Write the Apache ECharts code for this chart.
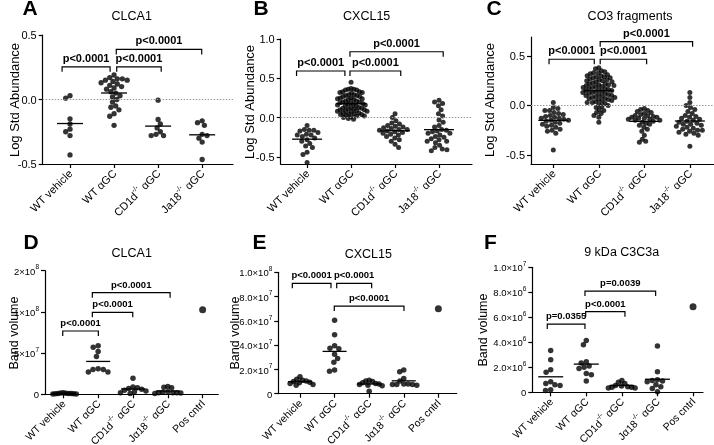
<!DOCTYPE html>
<html><head><meta charset="utf-8">
<script src="https://cdn.jsdelivr.net/npm/echarts@6/dist/echarts.min.js"></script>
<style>html,body{margin:0;padding:0;background:#fff}#c{width:714px;height:445px}</style>
</head><body><div id="c"></div>
<script>
// ---------------- DATA ----------------
const topCategories = ['WT vehicle', 'WT αGC', 'CD1d^-/- αGC', 'Ja18^-/- αGC'];
const bottomCategories = ['WT vehicle', 'WT αGC', 'CD1d^-/- αGC', 'Jα18^-/- αGC', 'Pos cntrl'];

// A: CLCA1, Log Std Abundance
const aVehicle = [0.03, 0.01, -0.15, -0.19, -0.23, -0.25, -0.28, -0.43];
const aAlphaGC = [0.19, 0.17, 0.16, 0.16, 0.15, 0.15, 0.14, 0.13, 0.12, 0.11, 0.10, 0.09, 0.08, 0.06, 0.05, 0.03, 0.02, 0.0, -0.02, -0.05, -0.06, -0.08, -0.11, -0.13, -0.2];
const aCD1d = [-0.005, -0.155, -0.19, -0.22, -0.25, -0.27, -0.28, -0.28];
const aJa18 = [-0.165, -0.18, -0.2, -0.27, -0.28, -0.3, -0.33, -0.465];

// B: CXCL15, Log Std Abundance
const bVehicle = [-0.10, -0.15, -0.16, -0.16, -0.17, -0.19, -0.21, -0.22, -0.22, -0.24, -0.26, -0.28, -0.30, -0.33, -0.36, -0.38, -0.44, -0.47, -0.57];
const bAlphaGC = [0.45, 0.37, 0.36, 0.36, 0.35, 0.35, 0.33, 0.33, 0.32, 0.32, 0.31, 0.29, 0.29, 0.28, 0.28, 0.27, 0.27,
  0.25, 0.25, 0.24, 0.24, 0.23, 0.23, 0.21, 0.21, 0.20, 0.20, 0.19, 0.19, 0.18, 0.17, 0.17, 0.16, 0.16, 0.15, 0.15,
  0.13, 0.13, 0.12, 0.12, 0.11, 0.11, 0.10, 0.10, 0.09, 0.09, 0.08, 0.08, 0.07, 0.06, 0.06, 0.05, 0.05, 0.04, 0.04, 0.03,
  0.02, 0.02, 0.01, 0.0, -0.01, -0.02];
const bCD1d = [0.05, 0.0, -0.04, -0.07, -0.08, -0.10, -0.11, -0.12, -0.13, -0.14, -0.15, -0.15, -0.16, -0.17, -0.18, -0.19, -0.20, -0.21, -0.22, -0.24, -0.26, -0.28, -0.30, -0.34, -0.38];
const bJa18 = [0.22, 0.20, 0.18, 0.15, 0.10, 0.05, 0.02, -0.03, -0.06, -0.10, -0.12, -0.15, -0.16, -0.17, -0.18, -0.20, -0.20, -0.22, -0.24, -0.25, -0.27, -0.28, -0.30, -0.30, -0.32, -0.35, -0.38, -0.40, -0.41, -0.42];

// C: CO3 fragments, Log Std Abundance
const cVehicle = [0.03, -0.02, -0.03, -0.05, -0.05, -0.07, -0.08, -0.09, -0.10, -0.11, -0.12, -0.13, -0.13, -0.14, -0.15, -0.15, -0.16, -0.17, -0.18, -0.19, -0.20, -0.21, -0.22, -0.24, -0.25, -0.26, -0.28, -0.45];
const cAlphaGC = [0.38, 0.37, 0.35, 0.34, 0.33, 0.33, 0.32, 0.31, 0.30, 0.30, 0.29, 0.29, 0.28, 0.28,
  0.27, 0.26, 0.26, 0.25, 0.25, 0.24, 0.24, 0.23, 0.22, 0.22, 0.21, 0.21, 0.20, 0.20, 0.19, 0.19, 0.18,
  0.18, 0.17, 0.17, 0.16, 0.16, 0.15, 0.15, 0.14, 0.14, 0.13, 0.13, 0.12, 0.12, 0.11, 0.11, 0.10, 0.10, 0.09,
  0.09, 0.08, 0.08, 0.07, 0.07, 0.06, 0.06, 0.05, 0.04, 0.04, 0.03, 0.03, 0.02, 0.01,
  0.0, -0.01, -0.02, -0.04, -0.05, -0.07, -0.08, -0.10, -0.12, -0.17];
const cCD1d = [-0.03, -0.04, -0.05, -0.06, -0.07, -0.08, -0.09, -0.10, -0.10, -0.11, -0.12, -0.12, -0.13, -0.13, -0.14, -0.14, -0.15, -0.15, -0.16, -0.17, -0.18, -0.19, -0.20, -0.22, -0.24, -0.26, -0.30, -0.34, -0.36, -0.37];
const cJa18 = [0.13, 0.08, 0.03, 0.0, -0.02, -0.04, -0.06, -0.08, -0.10, -0.11, -0.12, -0.13, -0.14, -0.15, -0.16, -0.17, -0.18, -0.19, -0.19, -0.20, -0.21, -0.22, -0.23, -0.24, -0.25, -0.25, -0.26, -0.27, -0.28, -0.29, -0.30, -0.41];

// D: CLCA1, Band volume
const dVehicle = [0.5e6, 0.8e6, 1.0e6, 1.0e6, 1.2e6, 1.5e6, 1.0e6, 0.8e6, 2.0e6, 0.5e6];
const dAlphaGC = [5.9e7, 5.7e7, 5.2e7, 4.6e7, 3.1e7, 3.0e7, 3.0e7, 2.7e7, 2.7e7];
const dCD1d = [1.95e7, 0.9e7, 0.8e7, 0.7e7, 0.6e7, 0.5e7, 0.4e7, 0.3e7, 0.2e7, 0.1e7];
const dJa18 = [0.95e7, 0.8e7, 0.85e7, 0.3e7, 0.25e7, 0.2e7, 0.2e7, 0.15e7, 0.1e7, 0.2e7];
const dPos = [1.05e8];

// E: CXCL15, Band volume
const eVehicle = [1.4e7, 1.2e7, 1.1e7, 1.05e7, 1.0e7, 0.95e7, 0.9e7, 0.85e7, 0.75e7, 0.7e7];
const eAlphaGC = [6.05e7, 4.85e7, 3.95e7, 3.75e7, 3.7e7, 3.25e7, 2.9e7, 2.6e7, 1.95e7, 1.85e7];
const eCD1d = [1.1e7, 1.05e7, 1.0e7, 0.9e7, 0.85e7, 0.8e7, 0.75e7, 0.7e7, 0.65e7, 0.2e7];
const eJa18 = [1.95e7, 1.8e7, 1.25e7, 1.05e7, 0.8e7, 0.8e7, 0.75e7, 0.75e7, 0.7e7, 0.75e7];
const ePos = [7.0e7];

// F: 9 kDa C3C3a, Band volume
const fVehicle = [3.35e6, 2.6e6, 1.8e6, 1.6e6, 0.85e6, 0.7e6, 0.6e6, 0.55e6, 0.2e6, 0.15e6];
const fAlphaGC = [4.15e6, 3.8e6, 2.45e6, 2.35e6, 2.1e6, 2.0e6, 1.9e6, 1.5e6, 1.4e6, 0.9e6];
const fCD1d = [0.95e6, 0.8e6, 0.7e6, 0.55e6, 0.5e6, 0.45e6, 0.4e6, 0.4e6, 0.35e6, 0.35e6];
const fJa18 = [3.7e6, 1.65e6, 1.0e6, 0.95e6, 0.9e6, 0.85e6, 0.6e6, 0.45e6, 0.3e6, 0.05e6];
const fPos = [6.85e6];

// tick values / labels
const ticksA = [-0.5, 0, 0.5];
const ticksB = [-0.5, 0, 0.5, 1.0];
const ticksC = [-0.5, 0, 0.5];
const ticksD = [0, 5e7, 1e8, 2e8];
const labelsD = ['0', '5×10^7', '1×10^8', '2×10^8'];
const ticksE = [0, 2e7, 4e7, 6e7, 8e7, 1e8];
const labelsE = ['0', '2.0×10^7', '4.0×10^7', '6.0×10^7', '8.0×10^7', '1.0×10^8'];
const ticksF = [0, 2e6, 4e6, 6e6, 8e6, 1e7];
const labelsF = ['0', '2.0×10^6', '4.0×10^6', '6.0×10^6', '8.0×10^6', '1.0×10^7'];

// comparisons: [from position, to position, bracket height (data value), label]
const compA = [[0.82, 1.91, 0.253, 'p<0.0001'], [2.06, 3.07, 0.253, 'p<0.0001'], [2.05, 3.99, 0.388, 'p<0.0001']];
const compB = [[0.76, 1.86, 0.593, 'p<0.0001'], [1.975, 3.13, 0.593, 'p<0.0001'], [1.975, 4.095, 0.838, 'p<0.0001']];
const compC = [[0.906, 1.90, 0.466, 'p<0.0001'], [2.03, 3.05, 0.466, 'p<0.0001'], [2.03, 4.06, 0.643, 'p<0.0001']];
const compD = [[0.983, 2.006, 7.68e7, 'p<0.0001'], [1.833, 2.994, 9.95e7, 'p<0.0001'], [1.833, 4.066, 1.466e8, 'p<0.0001']];
const compE = [[0.778, 1.896, 9.09e7, 'p<0.0001'], [2.061, 3.072, 9.09e7, 'p<0.0001'], [1.991, 4.006, 7.22e7, 'p<0.0001']];
const compF = [[0.904, 1.963, 5.46e6, 'p=0.0355'], [1.983, 3.087, 6.45e6, 'p<0.0001'], [1.963, 3.949, 8.1e6, 'p=0.0039']];

// ---------------- LAYOUT ----------------
const FONT = 'Arial, "Liberation Sans", Helvetica, sans-serif';
const identity = v => v;
const dTransform = v => v <= 1e8 ? v / 5e7 : 2 + (v - 1e8) / 1e8;

const panels = [
  {letter: 'A', title: 'CLCA1', yName: 'Log Std Abundance', cats: topCategories,
   groups: [aVehicle, aAlphaGC, aCD1d, aJa18], comps: compA,
   grid: {left: 42.7, top: 35, width: 190.3, height: 129}, xMin: 0.38, xMax: 4.7, yMin: -0.5, yMax: 0.5,
   tf: identity, ticks: ticksA, tickLabels: ticksA.map(v => v.toFixed(1)), zero: true, big: true,
   half: 13, dot: 5.3, letterPos: [30, 9.5], titlePos: [131.7, 16.7], yNamePos: [15, 100]},
  {letter: 'B', title: 'CXCL15', yName: 'Log Std Abundance', cats: topCategories,
   groups: [bVehicle, bAlphaGC, bCD1d, bJa18], comps: compB,
   grid: {left: 280.7, top: 39, width: 191.3, height: 125}, xMin: 0.40, xMax: 4.75, yMin: -0.59, yMax: 1.0,
   tf: identity, ticks: ticksB, tickLabels: ticksB.map(v => v.toFixed(1)), zero: true, big: true,
   half: 15, dot: 5, letterPos: [261, 9.5], titlePos: [366.7, 17], yNamePos: [250, 102]},
  {letter: 'C', title: 'CO3 fragments', yName: 'Log Std Abundance', cats: topCategories,
   groups: [cVehicle, cAlphaGC, cCD1d, cJa18], comps: compC,
   grid: {left: 531, top: 37, width: 183, height: 127}, xMin: 0.51, xMax: 4.53, yMin: -0.59, yMax: 0.69,
   tf: identity, ticks: ticksC, tickLabels: ticksC.map(v => v.toFixed(1)), zero: true, big: true,
   half: 15, dot: 5, letterPos: [494, 9.5], titlePos: [630, 17], yNamePos: [490, 100]},
  {letter: 'D', title: 'CLCA1', yName: 'Band volume', cats: bottomCategories,
   groups: [dVehicle, dAlphaGC, dCD1d, dJa18, dPos], comps: compD,
   grid: {left: 45, top: 270.7, width: 173.3, height: 123.6}, xMin: 0.474, xMax: 5.45, yMin: 0, yMax: 3,
   tf: dTransform, ticks: ticksD, tickLabels: labelsD, zero: false, big: false,
   half: 12, dot: 5.5, letterPos: [31, 243.5], titlePos: [131.7, 253.3], yNamePos: [15, 333]},
  {letter: 'E', title: 'CXCL15', yName: 'Band volume', cats: bottomCategories,
   groups: [eVehicle, eAlphaGC, eCD1d, eJa18, ePos], comps: compE,
   grid: {left: 278.3, top: 272.3, width: 178.4, height: 121.4}, xMin: 0.373, xMax: 5.53, yMin: 0, yMax: 1e8,
   tf: identity, ticks: ticksE, tickLabels: labelsE, zero: false, big: false,
   half: 12, dot: 5.5, letterPos: [259.5, 243.5], titlePos: [368.3, 254.3], yNamePos: [236, 333]},
  {letter: 'F', title: '9 kDa C3C3a', yName: 'Band volume', cats: bottomCategories,
   groups: [fVehicle, fAlphaGC, fCD1d, fJa18, fPos], comps: compF,
   grid: {left: 532.3, top: 267.3, width: 170.7, height: 125}, xMin: 0.483, xMax: 5.28, yMin: 0, yMax: 1e7,
   tf: identity, ticks: ticksF, tickLabels: labelsF, zero: false, big: false,
   half: 12.5, dot: 5.5, letterPos: [490.5, 243.5], titlePos: [621.7, 253], yNamePos: [484, 330]}
];

function richify(s) {
  const m = s.match(/^(.*?)\^(\S+)(.*)$/);
  if (!m) return '{a|' + s + '}';
  return '{a|' + m[1] + '}{s|' + m[2] + '}' + (m[3] ? '{a|' + m[3] + '}' : '');
}

// beeswarm offsets in pixels, then capped to a column half-width
function swarm(vals, yPx, d, maxHalf) {
  const order = vals.map((v, i) => i).sort((a, b) => vals[b] - vals[a]);
  const placed = [];
  const xs = new Array(vals.length).fill(0);
  order.forEach((i, k) => {
    const y = vals[i] * yPx;
    const cands = [0];
    placed.forEach(p => {
      const dy = Math.abs(p.y - y);
      if (dy < d) { const dx = Math.sqrt(d * d - dy * dy); cands.push(p.x + dx, p.x - dx); }
    });
    const sign = k % 2 ? 1 : -1;
    cands.sort((a, b) => (Math.abs(a) - Math.abs(b)) || (sign * (a - b)));
    let best = 0;
    for (const c of cands) {
      if (placed.every(p => (p.x - c) * (p.x - c) + (p.y - y) * (p.y - y) >= d * d - 1e-6)) { best = c; break; }
    }
    placed.push({x: best, y});
    xs[i] = best;
  });
  const mx = Math.max(1e-9, ...xs.map(Math.abs));
  const k = mx > maxHalf ? maxHalf / mx : 1;
  return xs.map(x => x * k);
}

const option = {animation: false, backgroundColor: '#fff', grid: [], xAxis: [], yAxis: [], series: [], graphic: []};

panels.forEach((P, pi) => {
  option.grid.push(Object.assign({containLabel: false, outerBoundsMode: 'none'}, P.grid));
  const catPos = P.cats.map((c, i) => i + 1);
  option.xAxis.push({
    type: 'value', gridIndex: pi, min: P.xMin, max: P.xMax,
    axisLine: {show: true, onZero: false, lineStyle: {color: '#000', width: 1.2}},
    axisTick: {show: true, customValues: catPos, length: 4, lineStyle: {color: '#000', width: 1.2}},
    splitLine: {show: false},
    axisLabel: {
      customValues: catPos, rotate: 45, margin: 7, color: '#000',
      formatter: v => richify(P.cats[Math.round(v) - 1] || ''),
      rich: {
        a: {fontFamily: FONT, fontSize: P.big ? 11 : 10.5, color: '#000', lineHeight: 14, verticalAlign: 'bottom'},
        s: {fontFamily: FONT, fontSize: 7, color: '#000', lineHeight: 8, verticalAlign: 'top'}
      }
    }
  });
  const tVals = P.ticks.map(P.tf);
  option.yAxis.push({
    type: 'value', gridIndex: pi, min: P.yMin, max: P.yMax,
    axisLine: {show: true, onZero: false, lineStyle: {color: '#000', width: 1.2}},
    axisTick: {show: true, customValues: tVals, length: 4, lineStyle: {color: '#000', width: 1.2}},
    splitLine: {show: false},
    axisLabel: {
      customValues: tVals, margin: 6, color: '#000',
      formatter: v => {
        const idx = tVals.findIndex(t => Math.abs(t - v) < 1e-9 * Math.max(1, Math.abs(t)));
        return idx < 0 ? '' : richify(P.tickLabels[idx]);
      },
      rich: {
        a: {fontFamily: FONT, fontSize: P.big ? 11 : 9.5, color: '#000', lineHeight: 13, verticalAlign: 'bottom'},
        s: {fontFamily: FONT, fontSize: 6.5, color: '#000', lineHeight: 8, verticalAlign: 'top'}
      }
    }
  });

  const yPx = P.grid.height / (P.yMax - P.yMin);
  const xPx = P.grid.width / (P.xMax - P.xMin);
  const scatterData = [];
  const means = [];
  P.groups.forEach((g, gi) => {
    const tv = g.map(P.tf);
    const offs = swarm(tv, yPx, P.dot * 0.95, P.half + 1);
    tv.forEach((v, i) => scatterData.push({value: [gi + 1 + offs[i] / xPx, v], symbolSize: g.length === 1 ? 7 : P.dot}));
    if (g.length > 1) {
      const m = g.reduce((s, x) => s + x, 0) / g.length;
      means.push([gi + 1, P.tf(m)]);
    }
  });
  const sc = {
    type: 'scatter', xAxisIndex: pi, yAxisIndex: pi, data: scatterData, symbol: 'circle',
    itemStyle: {color: '#000'}, silent: true, z: 3
  };
  if (P.zero) {
    sc.markLine = {silent: true, symbol: ['none', 'none'], label: {show: false},
      lineStyle: {color: '#999', type: [1.5, 1.5], width: 1}, data: [{yAxis: 0}]};
  }
  option.series.push(sc);
  option.series.push({
    type: 'custom', xAxisIndex: pi, yAxisIndex: pi, data: means, silent: true, z: 4,
    renderItem: (params, api) => {
      const c = api.coord([api.value(0), api.value(1)]);
      return {type: 'line', shape: {x1: c[0] - P.half, y1: c[1], x2: c[0] + P.half, y2: c[1]},
        style: {stroke: '#000', lineWidth: 1.3}};
    }
  });
  option.series.push({
    type: 'custom', xAxisIndex: pi, yAxisIndex: pi, silent: true, z: 5, clip: false,
    data: P.comps.map((b, i) => [b[0], b[1], P.tf(b[2]), i]),
    encode: {x: [0, 1], y: 2},
    renderItem: (params, api) => {
      const p1 = api.coord([api.value(0), api.value(2)]);
      const p2 = api.coord([api.value(1), api.value(2)]);
      const drop = 5;
      const lab = P.comps[params.dataIndex][3];
      return {type: 'group', children: [
        {type: 'polyline', shape: {points: [[p1[0], p1[1] + drop], [p1[0], p1[1]], [p2[0], p2[1]], [p2[0], p2[1] + drop]]},
         style: {stroke: '#000', lineWidth: 1.2, fill: null}},
        {type: 'text', x: (p1[0] + p2[0]) / 2, y: p1[1] - 2.5,
         style: {text: lab, textAlign: 'center', textVerticalAlign: 'bottom', fill: '#000',
           font: 'bold ' + (P.big ? 11 : 9.5) + 'px ' + FONT}}
      ]};
    }
  });

  option.graphic.push(
    {type: 'text', x: P.letterPos[0], y: P.letterPos[1], silent: true,
     style: {text: P.letter, textAlign: 'center', textVerticalAlign: 'middle', fill: '#000', font: 'bold 21px ' + FONT}},
    {type: 'text', x: P.titlePos[0], y: P.titlePos[1], silent: true,
     style: {text: P.title, textAlign: 'center', textVerticalAlign: 'middle', fill: '#000', font: '12.5px ' + FONT}},
    {type: 'text', x: P.yNamePos[0], y: P.yNamePos[1], rotation: Math.PI / 2, silent: true,
     style: {text: P.yName, textAlign: 'center', textVerticalAlign: 'middle', fill: '#000', font: (P.big ? 13 : 12.5) + 'px ' + FONT}}
  );
});

const chart = echarts.init(document.getElementById('c'), null, {renderer: 'canvas'});
chart.setOption(option);
</script>
</body></html>
